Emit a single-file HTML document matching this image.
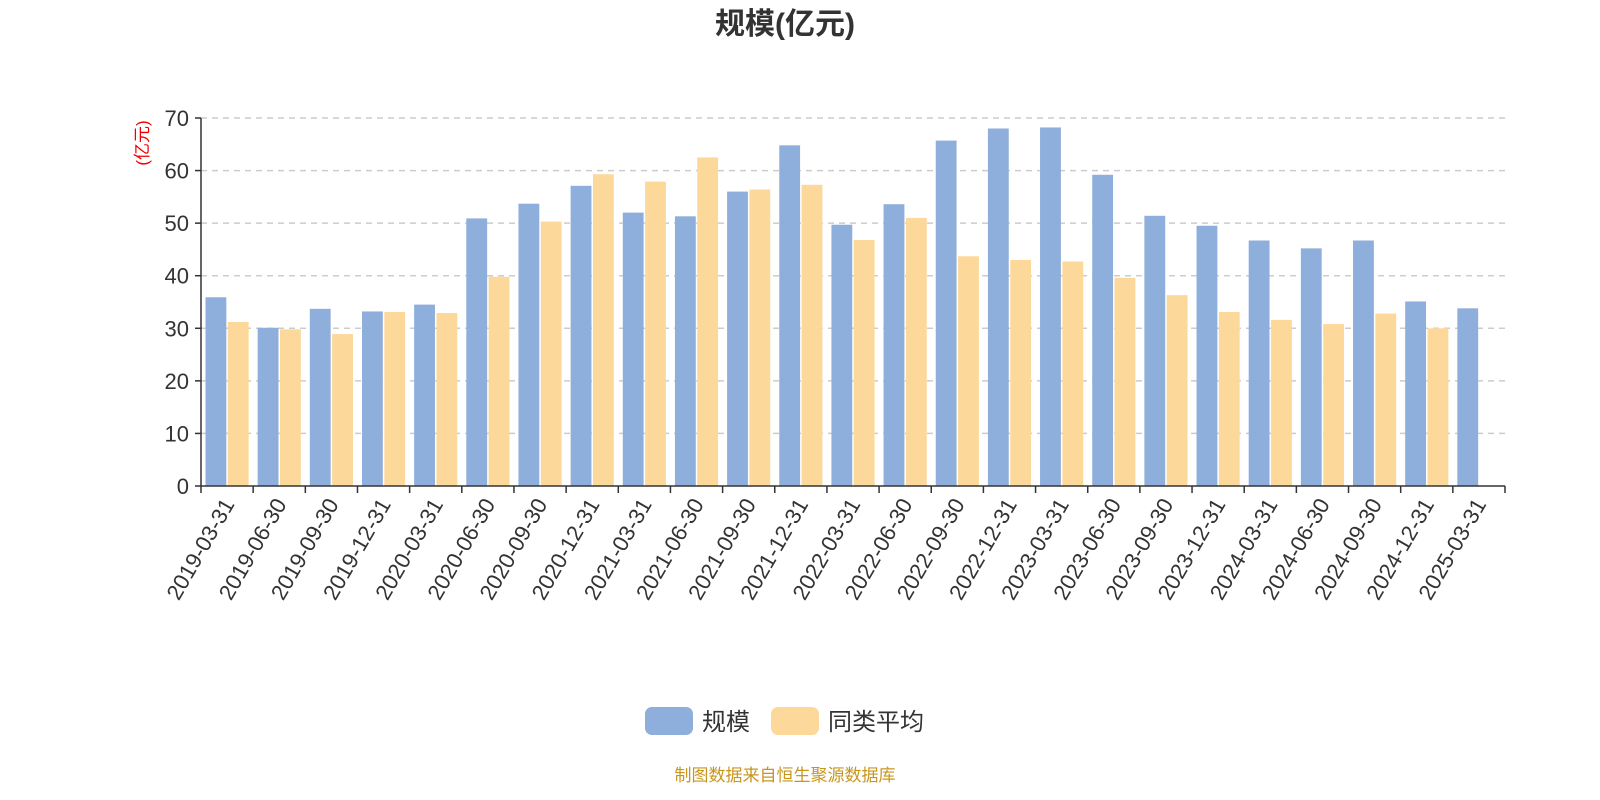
<!DOCTYPE html>
<html><head><meta charset="utf-8">
<style>
html,body{margin:0;padding:0;background:#fff;}
svg{display:block;font-family:"Liberation Sans","Noto Sans CJK SC",sans-serif;}
</style></head>
<body>
<svg id="chart" width="1600" height="800">
<text x="785" y="34" text-anchor="middle" font-size="30" font-weight="bold" fill="#333">规模(亿元)</text>
<text transform="translate(148,143) rotate(-90)" text-anchor="middle" font-size="17" fill="#e00">(亿元)</text>
<g id="grid"></g><g id="bars"></g><g id="axes"></g>
<g>
<rect x="645" y="707" width="48" height="28" rx="7" fill="#8eaedb"/>
<text x="702" y="730" font-size="24" fill="#333">规模</text>
<rect x="771" y="707" width="48" height="28" rx="7" fill="#fdd89b"/>
<text x="828" y="730" font-size="24" fill="#333">同类平均</text>
</g>
<text x="785" y="781" text-anchor="middle" font-size="17" fill="#c8961e">制图数据来自恒生聚源数据库</text>
</svg>
<script>
const categories=["2019-03-31","2019-06-30","2019-09-30","2019-12-31","2020-03-31","2020-06-30","2020-09-30","2020-12-31","2021-03-31","2021-06-30","2021-09-30","2021-12-31","2022-03-31","2022-06-30","2022-09-30","2022-12-31","2023-03-31","2023-06-30","2023-09-30","2023-12-31","2024-03-31","2024-06-30","2024-09-30","2024-12-31","2025-03-31"];
const sizeValues=[35.9,30.1,33.7,33.2,34.5,50.9,53.7,57.1,52.0,51.3,56.0,64.8,49.7,53.6,65.7,68.0,68.2,59.2,51.4,49.5,46.7,45.2,46.7,35.1,33.8];
const avgValues=[31.2,29.8,28.9,33.1,32.9,39.8,50.3,59.3,57.9,62.5,56.4,57.3,46.8,51.0,43.7,43.0,42.7,39.6,36.3,33.1,31.6,30.8,32.8,30.0,null];
const yTicks=[0,10,20,30,40,50,60,70];
const NS="http://www.w3.org/2000/svg";
const X0=201,X1=1505,Y0=486,Y1=118,YMAX=70;
const bw=(X1-X0)/categories.length;
function y(v){return Y0-(v/YMAX)*(Y0-Y1);}
function xc(i){return X0+bw*i;}
function mk(tag,attrs,parent){const e=document.createElementNS(NS,tag);for(const k in attrs)e.setAttribute(k,attrs[k]);parent.appendChild(e);return e;}
const grid=document.getElementById('grid'),bars=document.getElementById('bars'),axes=document.getElementById('axes');
yTicks.forEach(t=>{
  if(t>0){const l=mk('line',{x1:X0,x2:X1,y1:y(t),y2:y(t),stroke:'#ccc','stroke-width':1.5,'stroke-dasharray':'6,5'},grid);
  
  }
  const tk=mk('line',{x1:X0-6,x2:X0,y1:y(t),y2:y(t),stroke:'#333','stroke-width':1.5},axes);
  
  
  const tx=mk('text',{x:X0-12,y:y(t)+8,'text-anchor':'end','font-size':22,fill:'#333'},axes);
  tx.textContent=t;
  
  
});
const pad=4.5,gap=1.5,w=(bw-2*pad-gap)/2;
categories.forEach((c,i)=>{
  const b1=mk('rect',{x:xc(i)+pad,y:y(sizeValues[i]),width:w,height:Y0-y(sizeValues[i]),fill:'#8eaedb'},bars);
  
  
  if(avgValues[i]!=null){
    const b2=mk('rect',{x:xc(i)+pad+w+gap,y:y(avgValues[i]),width:w,height:Y0-y(avgValues[i]),fill:'#fdd89b'},bars);
    
    
  }
  const cx=xc(i)+bw/2;
  const lb=mk('text',{x:cx+8,y:Y0+18,'text-anchor':'end','font-size':22,fill:'#333',transform:`rotate(-60 ${cx+8} ${Y0+18})`},axes);
  lb.textContent=c;
  
  
});
for(let i=0;i<=categories.length;i++){
  const t=mk('line',{x1:xc(i),x2:xc(i),y1:Y0,y2:Y0+7,stroke:'#333','stroke-width':1.5},axes);
  
  
}
const xa=mk('line',{x1:X0,x2:X1,y1:Y0,y2:Y0,stroke:'#333','stroke-width':1.5},axes);


const ya=mk('line',{x1:X0,x2:X0,y1:Y1,y2:Y0,stroke:'#333','stroke-width':1.5},axes);


</script>
</body></html>
